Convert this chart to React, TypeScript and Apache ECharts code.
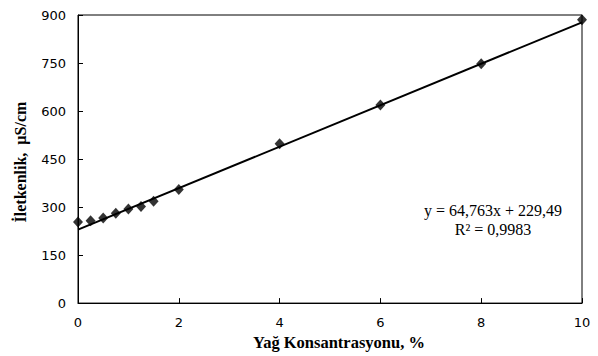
import React, { useEffect, useRef } from "react";
import * as echarts from "echarts";

const concentrations = [0, 0.25, 0.5, 0.75, 1, 1.25, 1.5, 2, 4, 6, 8, 10];
const conductivity = [253, 257, 266, 281, 294, 302, 318, 355, 498, 619, 748, 885];
const trendX = [0, 10];
const trendY = [229.49, 877.12];
const equationLines = ["y = 64,763x + 229,49", "R² = 0,9983"];

export default function App() {
  const ref = useRef<HTMLDivElement>(null);
  useEffect(() => {
    if (!ref.current) return;
    const chart = echarts.init(ref.current, null, { renderer: "svg" });
    chart.setOption({
      animation: false,
      backgroundColor: "#ffffff",
      grid: {
        left: 78,
        right: 16,
        top: 15,
        bottom: 50,
        show: true,
        borderColor: "#000",
        borderWidth: 1,
      },
      xAxis: {
        type: "value",
        min: 0,
        max: 10,
        interval: 2,
        name: "Yağ Konsantrasyonu, %",
        nameLocation: "middle",
        nameGap: 29,
        nameTextStyle: {
          fontFamily: "Liberation Serif",
          fontWeight: "bold",
          fontSize: 16.5,
          color: "#000",
          padding: [0, 0, 0, 18],
        },
        axisLine: { lineStyle: { color: "#000", width: 1 } },
        axisTick: { inside: true, length: 5, lineStyle: { color: "#000" } },
        axisLabel: { fontFamily: "DejaVu Sans", fontSize: 13, color: "#000", margin: 13 },
        splitLine: { show: false },
      },
      yAxis: {
        type: "value",
        min: 0,
        max: 900,
        interval: 150,
        name: "İletkenlik,  µS/cm",
        nameLocation: "middle",
        nameGap: 50,
        nameTextStyle: {
          fontFamily: "Liberation Serif",
          fontWeight: "bold",
          fontSize: 16,
          color: "#000",
          padding: [0, 6, 0, 0],
        },
        axisLine: { lineStyle: { color: "#000", width: 1 } },
        axisTick: { inside: true, length: 5, lineStyle: { color: "#000" } },
        axisLabel: { fontFamily: "DejaVu Sans", fontSize: 13, color: "#000", margin: 12 },
        splitLine: { show: false },
      },
      series: [
        {
          type: "line",
          data: trendX.map((x, i) => [x, trendY[i]]),
          showSymbol: false,
          symbol: "none",
          lineStyle: { color: "#000", width: 2 },
          z: 1,
        },
        {
          type: "scatter",
          data: concentrations.map((x, i) => [x, conductivity[i]]),
          symbol: "diamond",
          symbolSize: [10, 11],
          itemStyle: { color: "#000" },
          z: 2,
        },
      ],
      graphic: [
        {
          type: "text",
          x: 493,
          y: 210,
          style: {
            text: equationLines[0],
            font: "16px 'Liberation Serif'",
            fill: "#000",
            align: "center",
            verticalAlign: "middle",
          },
        },
        {
          type: "text",
          x: 493,
          y: 229,
          style: {
            text: equationLines[1],
            font: "16px 'Liberation Serif'",
            fill: "#000",
            align: "center",
            verticalAlign: "middle",
          },
        },
      ],
    });
    return () => chart.dispose();
  }, []);
  return (
    <div
      ref={ref}
      style={{ position: "fixed", left: 0, top: 0, width: 598, height: 356, background: "#fff" }}
    />
  );
}
